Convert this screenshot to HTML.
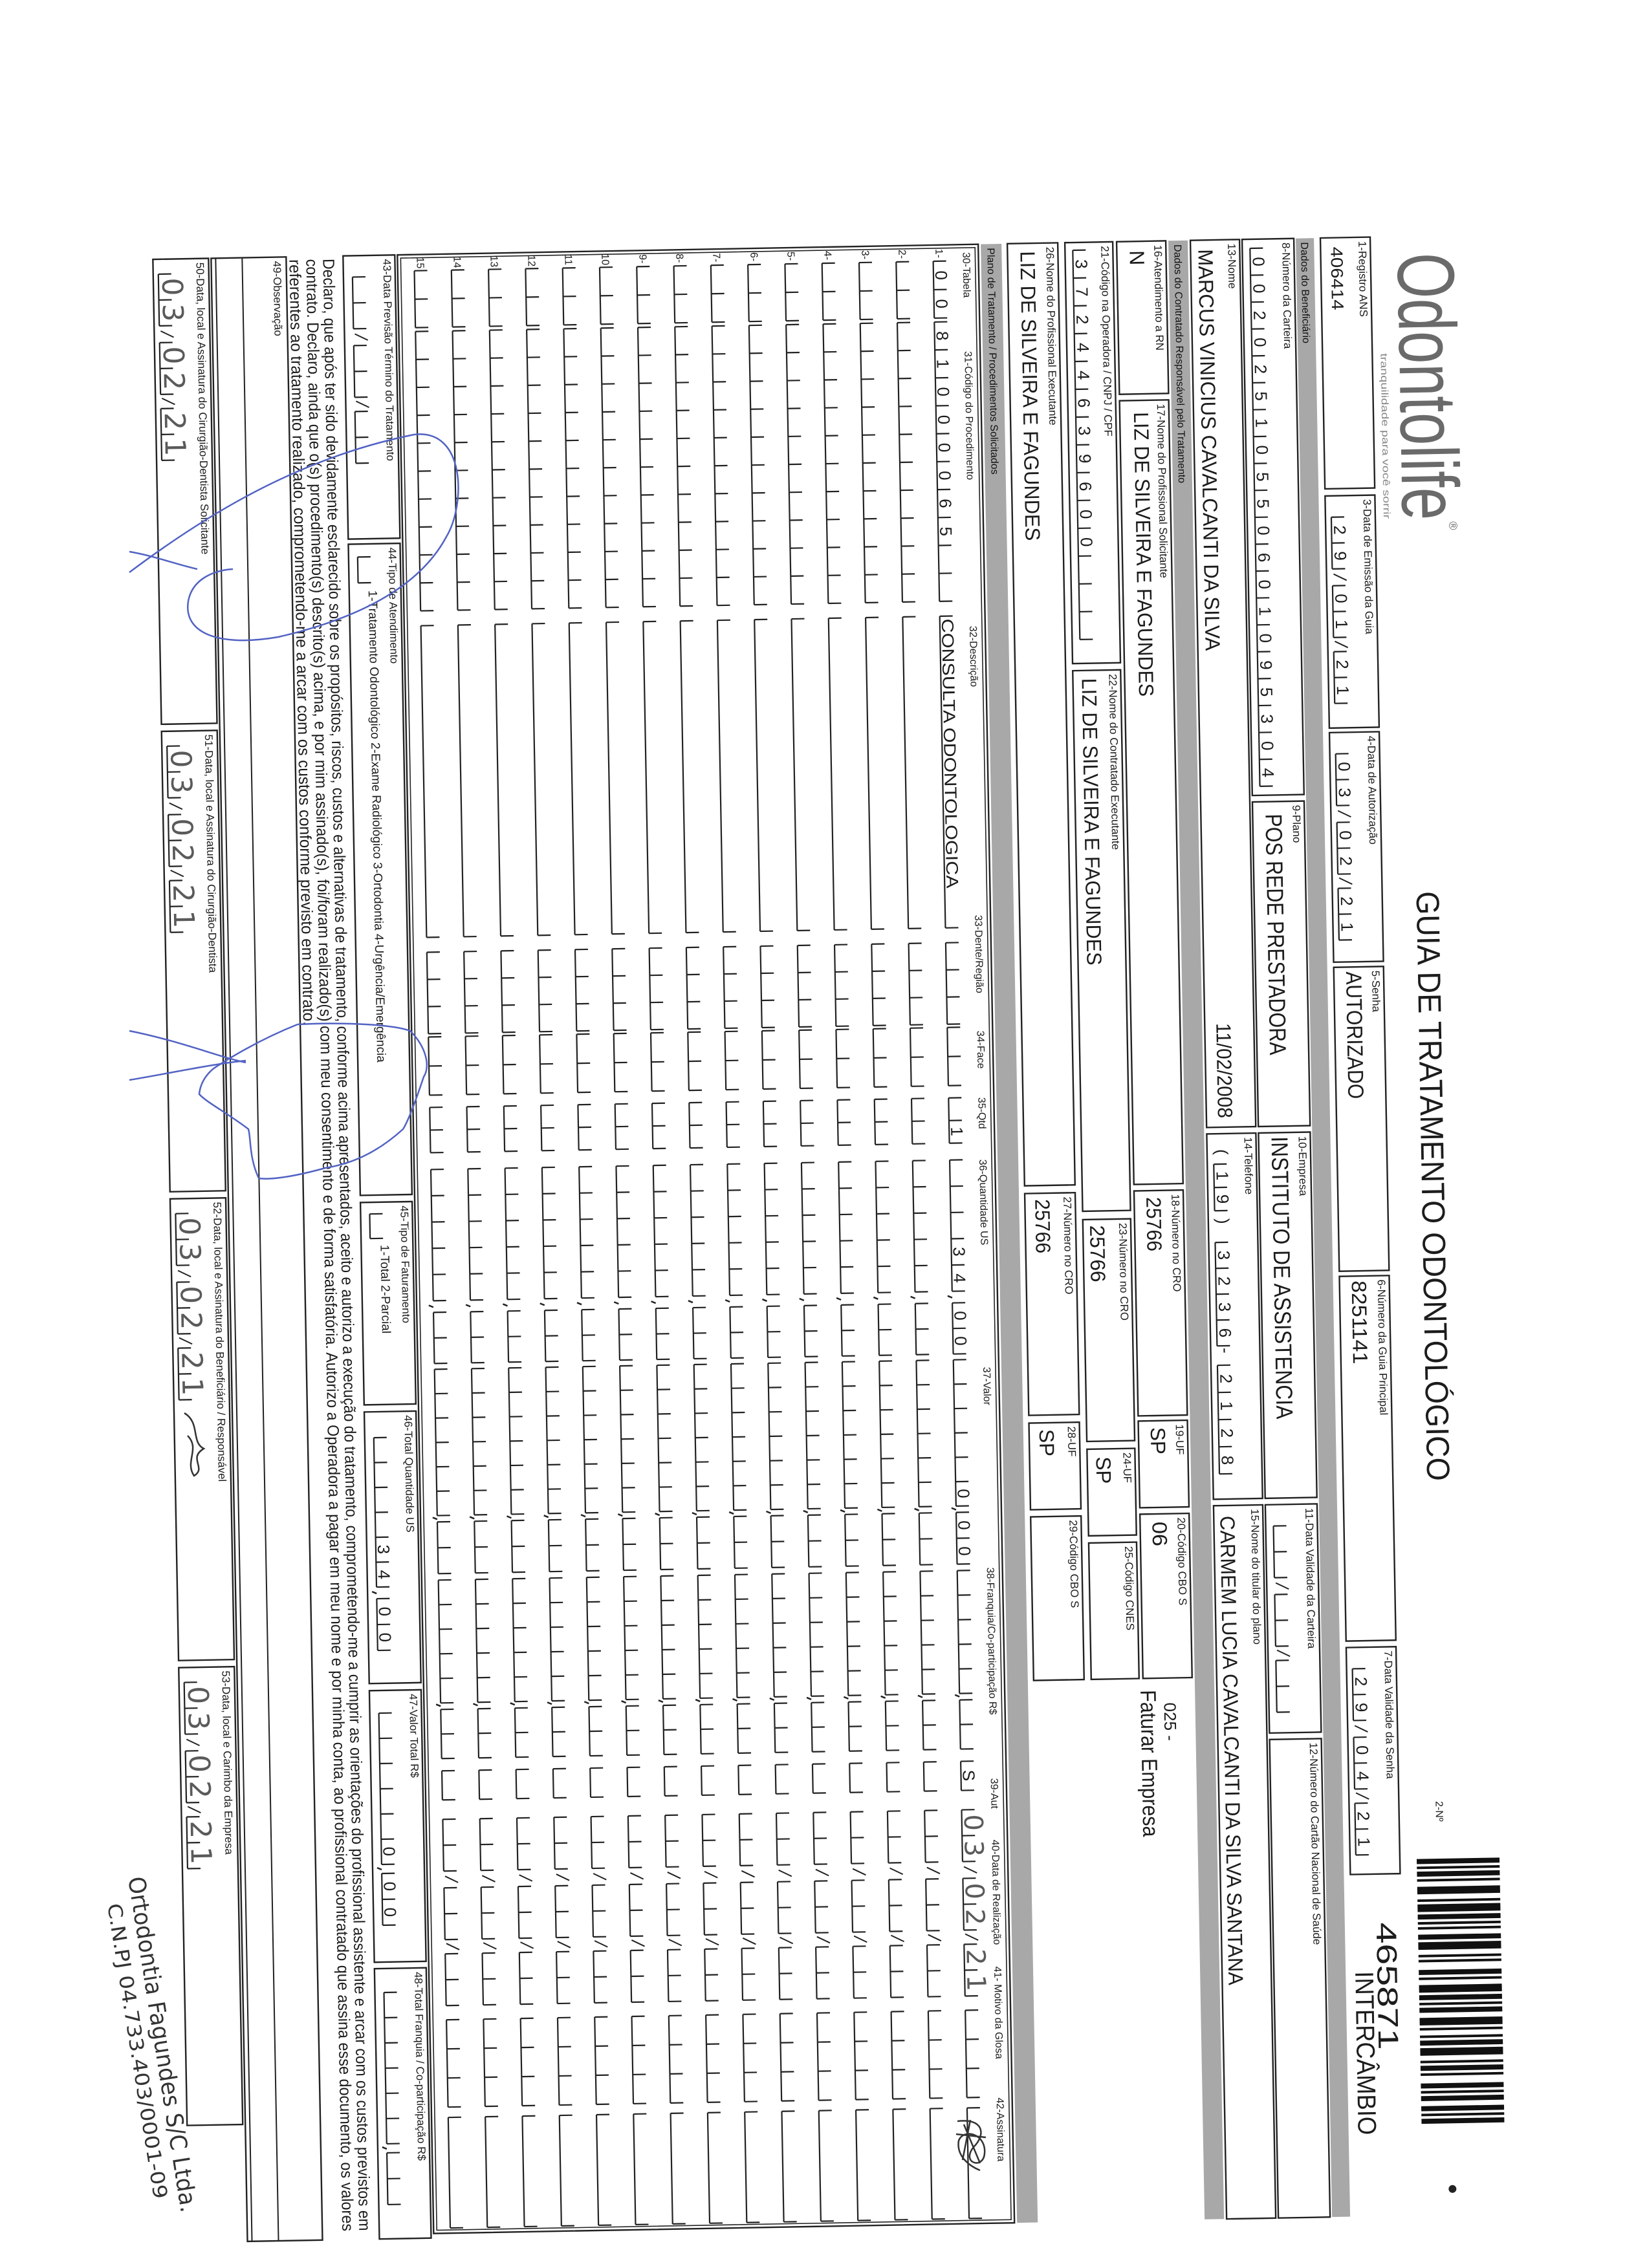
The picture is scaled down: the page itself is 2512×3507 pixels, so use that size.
<!DOCTYPE html>
<html><head><meta charset="utf-8"><style>
html,body{margin:0;padding:0;background:#fff}
#pg{position:relative;width:2512px;height:3507px;overflow:hidden;background:#fff}
#sk{position:absolute;left:0;top:0;width:2512px;height:3507px;transform-origin:1400px 1900px;transform:rotate(-1.05deg)}
#f{position:absolute;left:0;top:0;transform-origin:0 0;transform:translate(2330px,0) rotate(90deg)}
text{font-family:"Liberation Sans",sans-serif;fill:#1c1c1c}
.l{font-size:17px}.h{font-size:16px}.g{font-size:16px;fill:#111}
.v{font-size:32px}.d{font-size:26px}
.hw{font-family:"DejaVu Sans",sans-serif;font-size:40px;fill:#5a5a5a}
.bx{fill:none;stroke:#222;stroke-width:2.4}
.bar{fill:#a8a8a8}
</style></head><body><div id="pg"><div id="sk">
<svg id="f" width="3507" height="2330" viewBox="0 0 3507 2330" xmlns="http://www.w3.org/2000/svg">
<!-- header -->
<text x="406" y="142" style="font-size:125px;fill:#6a6a6a" textLength="413" lengthAdjust="spacingAndGlyphs">Odontolife</text>
<text x="822" y="70" style="font-size:18px;fill:#6a6a6a">®</text>
<text x="560" y="171" style="font-size:15px;fill:#888" textLength="256" lengthAdjust="spacingAndGlyphs">tranquilidade para você sorrir</text>
<text x="1393" y="131" style="font-size:50px" textLength="912" lengthAdjust="spacingAndGlyphs">GUIA DE TRATAMENTO ODONTOLÓGICO</text>
<text x="2800" y="127" style="font-size:16px">2-Nº</text>
<text x="2986" y="222" style="font-size:44px" textLength="197" lengthAdjust="spacingAndGlyphs">465871</text>
<text x="3061" y="256" style="font-size:40px" textLength="253" lengthAdjust="spacingAndGlyphs">INTERCÂMBIO</text>
<g id="bc"></g>
<circle cx="3400" cy="112" r="6" fill="#222"/>

<!-- row 1 -->
<rect class="bx" x="380" y="184" width="388" height="77"/>
<rect class="bx" x="779" y="184" width="359" height="77"/>
<rect class="bx" x="1145" y="184" width="355" height="77"/>
<rect class="bx" x="1508" y="184" width="470" height="77"/>
<rect class="bx" x="1986" y="184" width="564" height="77"/>
<rect class="bx" x="2560" y="184" width="351" height="77"/>
<text class="l" x="386" y="202">1-Registro ANS</text>
<text class="l" x="785" y="202">3-Data de Emissão da Guia</text>
<text class="l" x="1151" y="202">4-Data de Autorização</text>
<text class="l" x="1514" y="202">5-Senha</text>
<text class="l" x="1992" y="202">6-Número da Guia Principal</text>
<text class="l" x="2566" y="202">7-Data Validade da Senha</text>
<text x="394" y="245" style="font-size:26px" textLength="98" lengthAdjust="spacingAndGlyphs">406414</text>
<text class="d" text-anchor="middle" x="832 872 938 978 1040 1080" y="248">290121</text>
<text class="d" text-anchor="middle" x="1198 1238 1304 1344 1406 1446" y="248">030221</text>
<text class="v" x="1515" y="242" style="font-size:34px" textLength="197" lengthAdjust="spacingAndGlyphs">AUTORIZADO</text>
<text class="v" x="1993" y="242" textLength="129" lengthAdjust="spacingAndGlyphs">8251141</text>
<text class="d" text-anchor="middle" x="2613 2653 2719 2759 2821 2861" y="248">290421</text>

<rect class="bar" x="380" y="271" width="3060" height="28"/>
<text class="g" x="386" y="291">Dados do Beneficiário</text>

<!-- row 2 -->
<rect class="bx" x="380" y="302" width="860" height="80"/>
<rect class="bx" x="1250" y="302" width="502" height="80"/>
<rect class="bx" x="1762" y="302" width="565" height="80"/>
<rect class="bx" x="2337" y="302" width="353" height="80"/>
<rect class="bx" x="2700" y="302" width="740" height="80"/>
<text class="l" x="386" y="320">8-Número da Carteira</text>
<text class="l" x="1256" y="320">9-Plano</text>
<text class="l" x="1768" y="320">10-Empresa</text>
<text class="l" x="2343" y="320">11-Data Validade da Carteira</text>
<text class="l" x="2706" y="320">12-Número do Cartão Nacional de Saúde</text>
<text class="d" text-anchor="middle" x="414.8 456.4 498 539.6 581.2 622.8 664.4 706 747.6 789.2 830.8 872.4 914 955.6 997.2 1038.8 1080.4 1122 1163.6 1205.2" y="366">00202510550601095304</text>
<text class="v" x="1269" y="362" style="font-size:36px" textLength="373" lengthAdjust="spacingAndGlyphs">POS REDE PRESTADORA</text>
<text class="v" x="1768" y="362" style="font-size:36px" textLength="437" lengthAdjust="spacingAndGlyphs">INSTITUTO DE ASSISTENCIA</text>

<!-- row 3 -->
<rect class="bx" x="380" y="386" width="1372" height="76"/>
<rect class="bx" x="1762" y="386" width="565" height="76"/>
<rect class="bx" x="2337" y="386" width="1103" height="76"/>
<text class="l" x="386" y="404">13-Nome</text>
<text class="l" x="1768" y="404">14-Telefone</text>
<text class="l" x="2343" y="404">15-Nome do titular do plano</text>
<text class="v" x="394" y="450" textLength="621" lengthAdjust="spacingAndGlyphs">MARCUS VINICIUS CAVALCANTI DA SILVA</text>
<text class="v" x="1591" y="444" textLength="147" lengthAdjust="spacingAndGlyphs">11/02/2008</text>
<text class="d" x="1786" y="448">(</text>
<text class="d" text-anchor="middle" x="1827 1863" y="448">19</text>
<text class="d" x="1893" y="448">)</text>
<text class="d" text-anchor="middle" x="1950 1990 2030 2070" y="448">3236</text>
<text class="d" x="2093" y="448">-</text>
<text class="d" text-anchor="middle" x="2141 2183 2225 2267" y="448">2128</text>
<text class="v" x="2353" y="452" textLength="726" lengthAdjust="spacingAndGlyphs">CARMEM LUCIA CAVALCANTI DA SILVA SANTANA</text>

<rect class="bar" x="380" y="466" width="3060" height="30"/>
<text class="g" x="386" y="487">Dados do Contratado Responsável pelo Tratamento</text>

<!-- row 4 -->
<rect class="bx" x="380" y="500" width="236" height="76"/>
<rect class="bx" x="626" y="500" width="1212" height="76"/>
<rect class="bx" x="1848" y="500" width="348" height="76"/>
<rect class="bx" x="2204" y="500" width="134" height="76"/>
<rect class="bx" x="2348" y="500" width="254" height="76"/>
<text class="l" x="386" y="518">16-Atendimento a RN</text>
<text class="l" x="632" y="518">17-Nome do Profissional Solicitante</text>
<text class="l" x="1854" y="518">18-Número no CRO</text>
<text class="l" x="2210" y="518">19-UF</text>
<text class="l" x="2354" y="518">20-Código CBO S</text>
<text class="v" x="394" y="556">N</text>
<text class="v" x="644" y="554" textLength="440" lengthAdjust="spacingAndGlyphs">LIZ DE SILVEIRA E FAGUNDES</text>
<text class="v" x="1858" y="557" textLength="84" lengthAdjust="spacingAndGlyphs">25766</text>
<text class="v" x="2214" y="557" textLength="42" lengthAdjust="spacingAndGlyphs">SP</text>
<text class="v" x="2360" y="557" textLength="38" lengthAdjust="spacingAndGlyphs">06</text>
<text x="2640" y="544" style="font-size:26px">025 -</text>
<text x="2620" y="580" style="font-size:34px" textLength="227" lengthAdjust="spacingAndGlyphs">Faturar Empresa</text>

<!-- row 5 -->
<rect class="bx" x="380" y="582" width="651" height="74"/>
<rect class="bx" x="1042" y="582" width="836" height="74"/>
<rect class="bx" x="1891" y="582" width="343" height="74"/>
<rect class="bx" x="2246" y="582" width="134" height="74"/>
<rect class="bx" x="2391" y="582" width="211" height="74"/>
<text class="l" x="386" y="600">21-Código na Operadora / CNPJ / CPF</text>
<text class="l" x="1048" y="600">22-Nome do Contratado Executante</text>
<text class="l" x="1897" y="600">23-Número no CRO</text>
<text class="l" x="2252" y="600">24-UF</text>
<text class="l" x="2397" y="600">25-Código CNES</text>
<text class="d" text-anchor="middle" x="413.5 456.5 499.5 542.5 585.5 628.5 671.5 714.5 757.5 800.5 843.5" y="640">37244639600</text>
<text class="v" x="1054" y="642" textLength="444" lengthAdjust="spacingAndGlyphs">LIZ DE SILVEIRA E FAGUNDES</text>
<text class="v" x="1900" y="645" textLength="88" lengthAdjust="spacingAndGlyphs">25766</text>
<text class="v" x="2258" y="642" textLength="42" lengthAdjust="spacingAndGlyphs">SP</text>

<!-- row 6 -->
<rect class="bx" x="380" y="667" width="1457" height="78"/>
<rect class="bx" x="1849" y="667" width="343" height="78"/>
<rect class="bx" x="2204" y="667" width="134" height="78"/>
<rect class="bx" x="2349" y="667" width="253" height="78"/>
<text class="l" x="386" y="685">26-Nome do Profissional Executante</text>
<text class="l" x="1855" y="685">27-Número no CRO</text>
<text class="l" x="2210" y="685">28-UF</text>
<text class="l" x="2355" y="685">29-Código CBO S</text>
<text class="v" x="392" y="725" textLength="448" lengthAdjust="spacingAndGlyphs">LIZ DE SILVEIRA E FAGUNDES</text>
<text class="v" x="1858" y="729" textLength="84" lengthAdjust="spacingAndGlyphs">25766</text>
<text class="v" x="2214" y="729" textLength="42" lengthAdjust="spacingAndGlyphs">SP</text>

<rect class="bar" x="380" y="754" width="3060" height="32"/>
<text class="g" x="386" y="776">Plano de Tratamento / Procedimentos Solicitados</text>

<!-- table -->
<rect class="bx" x="380" y="790" width="3060" height="898"/>
<rect class="bx" x="385" y="795" width="3050" height="888" style="stroke-width:1.6"/>
<text class="h" x="392" y="814">30-Tabela</text>
<text class="h" x="545" y="814">31-Código do Procedimento</text>
<text class="h" x="970" y="814">32-Descrição</text>
<text class="h" x="1417" y="814">33-Dente/Região</text>
<text class="h" x="1596" y="814">34-Face</text>
<text class="h" x="1699" y="814">35-Qtd</text>
<text class="h" x="1795" y="814">36-Quantidade US</text>
<text class="h" x="2116" y="814">37-Valor</text>
<text class="h" x="2426" y="814">38-Franquia/Co-participação R$</text>
<text class="h" x="2752" y="814">39-Aut</text>
<text class="h" x="2847" y="814">40-Data de Realização</text>
<text class="h" x="3043" y="814">41- Motivo da Glosa</text>
<text class="h" x="3246" y="814">42-Assinatura</text>
<g class="h">
<text class="h" x="386" y="856">1-</text><text class="h" x="386" y="913">2-</text><text class="h" x="386" y="970">3-</text>
<text class="h" x="386" y="1028">4-</text><text class="h" x="386" y="1085">5-</text><text class="h" x="386" y="1142">6-</text>
<text class="h" x="386" y="1200">7-</text><text class="h" x="386" y="1257">8-</text><text class="h" x="386" y="1314">9-</text>
<text class="h" x="384" y="1372">10</text><text class="h" x="384" y="1429">11</text><text class="h" x="384" y="1486">12</text>
<text class="h" x="384" y="1544">13</text><text class="h" x="384" y="1601">14</text><text class="h" x="384" y="1658">15</text>
</g>
<text class="d" text-anchor="middle" x="427 471" y="857">00</text>
<text class="d" text-anchor="middle" x="520.6 563.8 607 650.2 693.4 736.6 779.8 823" y="857">81000065</text>
<text class="d" x="958" y="857" textLength="417" lengthAdjust="spacingAndGlyphs">CONSULTA ODONTOLOGICA</text>
<text class="d" text-anchor="middle" x="1751" y="857">1</text>
<text class="d" text-anchor="middle" x="1937 1978" y="857">34</text>
<text class="d" text-anchor="middle" x="2036 2075" y="857">00</text>
<text class="d" text-anchor="middle" x="2311" y="857">0</text>
<text class="d" text-anchor="middle" x="2360 2400" y="857">00</text>
<text class="d" text-anchor="middle" x="2747" y="857">S</text>
<text class="hw" text-anchor="middle" x="2820 2860 2926 2966 3028 3068" y="856">030221</text>
<g id="cl"></g>

<!-- 43-48 -->
<rect class="bx" x="380" y="1692" width="438" height="80"/>
<rect class="bx" x="826" y="1692" width="1007" height="80"/>
<rect class="bx" x="1844" y="1692" width="313" height="80"/>
<rect class="bx" x="2168" y="1692" width="420" height="80"/>
<rect class="bx" x="2599" y="1692" width="420" height="80"/>
<rect class="bx" x="3029" y="1692" width="418" height="80"/>
<text class="l" x="386" y="1710">43-Data Previsão Término do Tratamento</text>
<text class="l" x="832" y="1710">44-Tipo de Atendimento</text>
<text class="l" x="1850" y="1710">45-Tipo de Faturamento</text>
<text class="l" x="2174" y="1710">46-Total Quantidade US</text>
<text class="l" x="2605" y="1710">47-Valor Total R$</text>
<text class="l" x="3035" y="1710">48-Total Franquia / Co-participação R$</text>
<text x="898" y="1742" style="font-size:19px" textLength="730" lengthAdjust="spacingAndGlyphs">1-Tratamento Odontológico  2-Exame Radiológico  3-Ortodontia  4-Urgência/Emergência</text>
<text x="1910" y="1742" style="font-size:19px">1-Total  2-Parcial</text>
<text class="d" text-anchor="middle" x="2381 2420" y="1755">34</text>
<text class="d" text-anchor="middle" x="2477 2517" y="1755">00</text>
<text class="d" text-anchor="middle" x="2848" y="1755">0</text>
<text class="d" text-anchor="middle" x="2902 2942" y="1755">00</text>

<!-- declaration -->
<text x="384" y="1803" style="font-size:25px" textLength="3050" lengthAdjust="spacingAndGlyphs">Declaro, que após ter sido devidamente esclarecido sobre os propósitos, riscos, custos e alternativas de tratamento, conforme acima apresentados, aceito e autorizo a execução do tratamento, comprometendo-me a cumprir as orientações do profissional assistente e arcar com os custos previstos em</text>
<text x="384" y="1829" style="font-size:25px" textLength="3050" lengthAdjust="spacingAndGlyphs">contrato. Declaro, ainda que o(s) procedimento(s) descrito(s) acima, e por mim assinado(s), foi/foram realizado(s) com meu consentimento e de forma satisfatória. Autorizo a Operadora a pagar em meu nome e por minha conta, ao profissional contratado que assina esse documento, os valores</text>
<text x="384" y="1855" style="font-size:25px" textLength="1185" lengthAdjust="spacingAndGlyphs">referentes ao tratamento realizado, comprometendo-me a arcar com os custos conforme previsto em contrato.</text>

<!-- 49 -->
<rect class="bx" x="380" y="1860" width="3067" height="116"/>
<line x1="380" y1="1928" x2="3447" y2="1928" stroke="#222" stroke-width="2"/>
<line x1="380" y1="1969" x2="3447" y2="1969" stroke="#222" stroke-width="2"/>
<text class="l" x="386" y="1880">49-Observação</text>

<!-- 50-53 -->
<rect class="bx" x="380" y="1980" width="719" height="86"/>
<rect class="bx" x="1110" y="1980" width="712" height="86"/>
<rect class="bx" x="1833" y="1980" width="714" height="86"/>
<rect class="bx" x="2558" y="1980" width="708" height="86"/>
<text class="l" x="386" y="1999">50-Data, local e Assinatura do Cirurgião-Dentista Solicitante</text>
<text class="l" x="1116" y="1999">51-Data, local e Assinatura do Cirurgião-Dentista</text>
<text class="l" x="1839" y="1999">52-Data, local e Assinatura do Beneficiário / Responsável</text>
<text class="l" x="2564" y="1999">53-Data, local e Carimbo da Empresa</text>
<text class="hw" style="font-size:44px" text-anchor="middle" x="423 463 529 569 631 671" y="2052">030221</text>
<text class="hw" style="font-size:44px" text-anchor="middle" x="1153 1193 1259 1299 1361 1401" y="2052">030221</text>
<text class="hw" style="font-size:44px" text-anchor="middle" x="1876 1916 1982 2022 2084 2124" y="2052">030221</text>
<text class="hw" style="font-size:44px" text-anchor="middle" x="2601 2641 2707 2747 2809 2849" y="2052">030221</text>
</svg>
</div>
<svg width="2512" height="3507" style="position:absolute;left:0;top:0" xmlns="http://www.w3.org/2000/svg">
<g fill="none" stroke="#5263c4" stroke-width="2.5">
<path d="M200 885 C300 810 450 710 640 672 C720 662 720 780 690 830 C650 905 560 955 430 985 C330 1002 280 975 292 925 C300 895 330 882 360 880"/>
<path d="M200 853 C240 860 270 872 305 880"/>
<path d="M200 1670 C260 1660 330 1645 380 1640"/>
<path d="M200 1594 C280 1610 340 1635 380 1643 M460 1584 C540 1580 610 1585 634 1594 C660 1620 665 1650 655 1665 C640 1710 630 1735 623 1746 C580 1785 540 1800 503 1806 C460 1818 420 1825 400 1822 C385 1790 388 1760 384 1746 C350 1720 320 1705 308 1692 C310 1670 325 1655 335 1649 C380 1620 420 1600 460 1584"/>
</g>
<g fill="none" stroke="#333" stroke-width="2.5">
<path d="M285 2185 C310 2200 295 2230 315 2240 C290 2255 320 2270 300 2282 C285 2260 310 2240 290 2220"/>
<path d="M1480 3280 C1520 3275 1525 3300 1505 3320 C1485 3345 1520 3355 1522 3330 C1525 3300 1490 3290 1482 3310 C1478 3335 1500 3350 1515 3356 M1490 3285 L1515 3345 M1500 3278 L1488 3340 M1478 3300 L1524 3305"/>
</g>
<text transform="translate(198,2904) rotate(81)" style="font-family:'DejaVu Sans',sans-serif;font-size:36px;fill:#333" textLength="525" lengthAdjust="spacingAndGlyphs">Ortodontia Fagundes S/C Ltda.</text>
<text transform="translate(166,2945) rotate(81)" style="font-family:'DejaVu Sans',sans-serif;font-size:30px;fill:#333" textLength="462" lengthAdjust="spacingAndGlyphs">C.N.PJ 04.733.403/0001-09</text>
</svg>
</div>
<script>
(function(){
var NS='http://www.w3.org/2000/svg',G=document.getElementById('cl');
function ln(a,b,c,d,w){var e=document.createElementNS(NS,'line');e.setAttribute('x1',a);e.setAttribute('y1',b);e.setAttribute('x2',c);e.setAttribute('y2',d);e.setAttribute('stroke','#222');e.setAttribute('stroke-width',w||2.2);G.appendChild(e);}
function C(u,n,w,vb,h){h=h||20;ln(u,vb,u+n*w,vb);for(var k=0;k<=n;k++)ln(u+k*w,vb,u+k*w,vb-h);}
function S(u,vb){ln(u-5,vb-2,u+5,vb-22,2);}
function CM(u,vb){ln(u,vb,u-3,vb+7,2.5);}
function D(u,vb){C(u,2,40,vb);S(u+93,vb);C(u+106,2,40,vb);S(u+197,vb);C(u+208,2,40,vb);}
function L(u1,u2,vb){ln(u1,vb,u2,vb);ln(u1,vb,u1,vb-20);ln(u2,vb,u2,vb-20);}
D(812,252);D(1178,252);D(2593,252);D(2370,370);
C(394,20,41.6,370);C(392,14,43,644);
C(1809,2,36,452);C(1930,4,40,452);C(2120,4,42,452);
for(var i=0;i<15;i++){var vb=860+57.3*i;
C(405,2,44,vb);C(499,10,43.2,vb);L(954,1436,vb);C(1459,3,42,vb);C(1590,2,45,vb);C(1699,2,35,vb);
C(1795,5,40.6,vb);CM(2008,vb);C(2016,2,39.5,vb);C(2104,6,37.7,vb);CM(2336,vb);C(2340,2,40,vb);
C(2430,5,38,vb);CM(2625,vb);C(2630,2,38,vb);C(2725,1,45,vb);D(2800,vb);C(3110,3,45,vb);L(3261,3432,vb);}
var b=1758;D(413,b);C(846,1,40,b);C(1862,1,38,b);
C(2208,6,38.5,b);CM(2449,b);C(2457,2,40,b);
C(2634,6,39,b);CM(2876,b);C(2882,2,40,b);
C(3066,6,39,b);CM(3308,b);C(3314,2,40,b);
D(403,2058);D(1133,2058);D(1856,2058);D(2581,2058);
var B=document.getElementById('bc'),p=[2,1,1,1,2,1,1,2,3,2,1,1,3,1,2,1,1,1,1,2,2,1,3,2,1,1,1,3,2,1,1,2,3,1,2,1,1,1,2,2,3,1,1,2,1,1,2,1,3,2,1,1,2,1,1,3,2,1,1,1,2,2],u=2889,k=0,unit=3.9;
while(u<3299){var w=p[k%p.length]*unit;if(k%2==0){var r=document.createElementNS(NS,'rect');r.setAttribute('x',u);r.setAttribute('y',30);r.setAttribute('width',Math.min(w,3299-u));r.setAttribute('height',128);r.setAttribute('fill','#111');B.appendChild(r);}u+=w;k++;}
})();
</script>
</body></html>
